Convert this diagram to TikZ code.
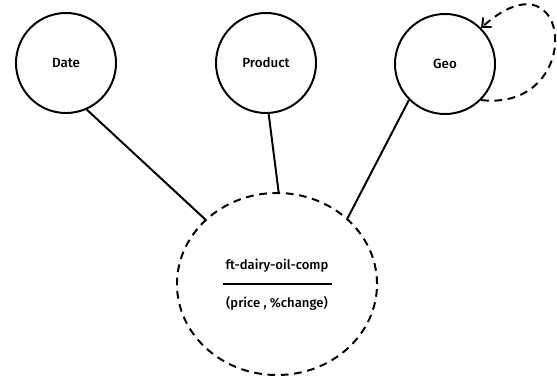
\documentclass[tikz,border=0pt]{standalone}
\usepackage{fontspec}
\setmainfont{Fira Sans Medium}
\usepackage{tikz}
\usetikzlibrary{arrows.meta,shapes.geometric,positioning,calc}

\begin{document}
\begin{tikzpicture}[
  x=0.025cm, y=0.025cm,
  dim/.style={circle,draw,line width=1.4pt,minimum size=2.5cm,
              font=\fontsize{9.5}{11}\selectfont},
  fact/.style={ellipse,draw,line width=1.4pt,dash pattern=on 5.5pt off 4pt,
               minimum width=5cm,minimum height=4.55cm},
  lbl/.style={font=\fontsize{9.3}{11}\selectfont},
  link/.style={line width=1.4pt},
]
\useasboundingbox (0,0) rectangle (557,376);
% Dimension nodes
\node[dim] (date) at (66,313) {Date};
\node[dim] (product) at (266,313) {Product};
\node[dim] (geo) at (445,312) {Geo};
% Fact node
\node[fact] (comp) at (277,92) {};
\node[lbl] (name) at (277,110) {ft-dairy-oil-comp};
\node[lbl] (measures) at (277,73) {(price , \%change)};
\draw[line width=1.3pt] ($(comp.center)+(-54,0)$) -- ($(comp.center)+(55,0)$);
% Links
\draw[link] (date.-66) -- (comp.138);
\draw[link] (product.-87) -- (comp.89);
\draw[link] (geo.225) -- (comp.43);
% Self loop on Geo
\draw[link,dash pattern=on 5.5pt off 4pt,-{Straight Barb[length=5pt,width=9pt]}]
  (geo.-45) .. controls +(105,-12) and +(92,82) .. (geo.45);
\end{tikzpicture}
\end{document}
